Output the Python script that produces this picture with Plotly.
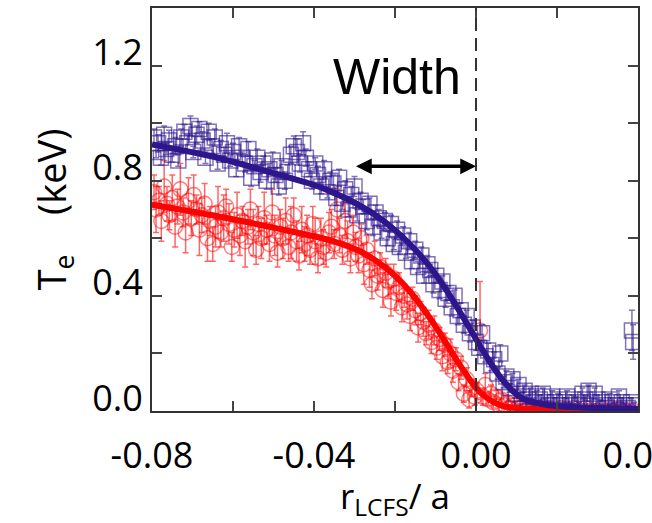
import plotly.graph_objects as go

# ---------------- data ----------------
blue_x = [
    -0.0795, -0.0790, -0.0785, -0.0778, -0.0770, -0.0765, -0.0758, -0.0750, -0.0742, -0.0735,
    -0.0728, -0.0720, -0.0713, -0.0705, -0.0698, -0.0690, -0.0683, -0.0675, -0.0668, -0.0660,
    -0.0652, -0.0645, -0.0638, -0.0630, -0.0622, -0.0615, -0.0607, -0.0600, -0.0592, -0.0585,
    -0.0577, -0.0570, -0.0562, -0.0555, -0.0547, -0.0540, -0.0532, -0.0525, -0.0517, -0.0510,
    -0.0502, -0.0495, -0.0487, -0.0480, -0.0472, -0.0465, -0.0457, -0.0450, -0.0442, -0.0435,
    -0.0427, -0.0420, -0.0412, -0.0405, -0.0397, -0.0390, -0.0382, -0.0375, -0.0367, -0.0360,
    -0.0352, -0.0345, -0.0338, -0.0330, -0.0323, -0.0315, -0.0308, -0.0300, -0.0293, -0.0285,
    -0.0278, -0.0270, -0.0263, -0.0255, -0.0248, -0.0240, -0.0233, -0.0225, -0.0218, -0.0210,
    -0.0203, -0.0195, -0.0188, -0.0180, -0.0173, -0.0165, -0.0158, -0.0150, -0.0143, -0.0135,
    -0.0128, -0.0120, -0.0113, -0.0105, -0.0098, -0.0090, -0.0083, -0.0075, -0.0068, -0.0060,
    -0.0053, -0.0045, -0.0038, -0.0030, -0.0023, -0.0015, -0.0008, 0.0000,
    0.0008, 0.0015, 0.0023, 0.0030, 0.0038, 0.0045, 0.0053, 0.0060, 0.0068, 0.0075,
    0.0083, 0.0090, 0.0098, 0.0105, 0.0113, 0.0120, 0.0128, 0.0135, 0.0143, 0.0150,
    0.0158, 0.0165, 0.0173, 0.0180, 0.0188, 0.0195, 0.0203, 0.0210, 0.0218, 0.0225,
    0.0233, 0.0240, 0.0248, 0.0255, 0.0263, 0.0270, 0.0278, 0.0285, 0.0293, 0.0300,
    0.0308, 0.0315, 0.0323, 0.0330, 0.0338, 0.0345, 0.0353, 0.0360, 0.0368, 0.0375,
    0.0383, 0.0390, 0.0385, 0.0388,
]
blue_y = [
    0.95, 0.90, 0.93, 0.88, 0.96, 0.91, 0.94, 0.89, 0.92, 0.87,
    0.95, 0.97, 0.93, 0.99, 0.90, 0.96, 0.98, 0.94, 0.88, 0.97,
    0.92, 0.95, 0.86, 0.91, 0.89, 0.93, 0.87, 0.90, 0.84, 0.92,
    0.88, 0.86, 0.91, 0.81, 0.85, 0.88, 0.83, 0.86, 0.80, 0.84,
    0.87, 0.82, 0.78, 0.85, 0.80, 0.83, 0.89, 0.92, 0.90, 0.86,
    0.93, 0.88, 0.84, 0.80, 0.86, 0.82, 0.78, 0.84, 0.76, 0.80,
    0.79, 0.74, 0.81, 0.72, 0.77, 0.70, 0.75, 0.78, 0.68, 0.73,
    0.71, 0.66, 0.72, 0.64, 0.69, 0.67, 0.62, 0.66, 0.60, 0.65,
    0.58, 0.63, 0.57, 0.61, 0.55, 0.59, 0.52, 0.56, 0.50, 0.54,
    0.47, 0.51, 0.49, 0.44, 0.47, 0.42, 0.45, 0.39, 0.41, 0.36,
    0.40, 0.33, 0.35, 0.30, 0.33, 0.27, 0.29, 0.24,
    0.22, 0.27, 0.19, 0.21, 0.16, 0.18, 0.13, 0.20, 0.10, 0.12,
    0.08, 0.11, 0.06, 0.09, 0.05, 0.07, 0.04, 0.06, 0.03, 0.05,
    0.04, 0.06, 0.03, 0.02, 0.05, 0.03, 0.04, 0.02, 0.03, 0.05,
    0.02, 0.04, 0.03, 0.02, 0.06, 0.04, 0.07, 0.03, 0.06, 0.04,
    0.03, 0.02, 0.01, 0.04, 0.03, 0.02, 0.05, 0.03, 0.02, 0.01,
    0.03, 0.02, 0.28, 0.24,
]
blue_err = [
    0.03, 0.02, 0.03, 0.025, 0.03, 0.02, 0.035, 0.025, 0.03, 0.02,
    0.03, 0.025, 0.03, 0.035, 0.02, 0.03, 0.025, 0.03, 0.02, 0.03,
    0.025, 0.03, 0.02, 0.03, 0.025, 0.035, 0.02, 0.03, 0.025, 0.03,
    0.02, 0.03, 0.025, 0.03, 0.02, 0.03, 0.035, 0.025, 0.03, 0.02,
    0.03, 0.025, 0.03, 0.02, 0.03, 0.025, 0.03, 0.035, 0.045, 0.03,
    0.04, 0.03, 0.025, 0.03, 0.02, 0.03, 0.025, 0.03, 0.02, 0.03,
    0.03, 0.025, 0.03, 0.02, 0.03, 0.025, 0.03, 0.035, 0.02, 0.03,
    0.025, 0.03, 0.02, 0.03, 0.025, 0.03, 0.02, 0.03, 0.025, 0.03,
    0.02, 0.03, 0.025, 0.03, 0.02, 0.03, 0.025, 0.03, 0.02, 0.03,
    0.025, 0.03, 0.02, 0.03, 0.025, 0.03, 0.02, 0.03, 0.025, 0.03,
    0.02, 0.03, 0.025, 0.03, 0.02, 0.03, 0.025, 0.03,
    0.025, 0.03, 0.02, 0.025, 0.02, 0.025, 0.02, 0.03, 0.02, 0.02,
    0.015, 0.02, 0.015, 0.02, 0.015, 0.02, 0.015, 0.02, 0.015, 0.02,
    0.015, 0.02, 0.015, 0.01, 0.02, 0.015, 0.02, 0.01, 0.015, 0.02,
    0.01, 0.015, 0.02, 0.01, 0.02, 0.015, 0.02, 0.015, 0.02, 0.015,
    0.01, 0.015, 0.01, 0.02, 0.015, 0.01, 0.02, 0.015, 0.01, 0.01,
    0.015, 0.01, 0.07, 0.06,
]

red_x = [
    -0.0795, -0.0790, -0.0783, -0.0777, -0.0770, -0.0763, -0.0757, -0.0750, -0.0743, -0.0737,
    -0.0730, -0.0723, -0.0717, -0.0710, -0.0703, -0.0697, -0.0690, -0.0683, -0.0677, -0.0670,
    -0.0663, -0.0657, -0.0650, -0.0643, -0.0637, -0.0630, -0.0623, -0.0617, -0.0610, -0.0603,
    -0.0597, -0.0590, -0.0583, -0.0577, -0.0570, -0.0563, -0.0557, -0.0550, -0.0543, -0.0537,
    -0.0530, -0.0523, -0.0517, -0.0510, -0.0503, -0.0497, -0.0490, -0.0483, -0.0477, -0.0470,
    -0.0463, -0.0457, -0.0450, -0.0443, -0.0437, -0.0430, -0.0423, -0.0417, -0.0410, -0.0403,
    -0.0397, -0.0390, -0.0383, -0.0377, -0.0370, -0.0363,
    -0.0357, -0.0350, -0.0343, -0.0337, -0.0330, -0.0323, -0.0317, -0.0310, -0.0303, -0.0297,
    -0.0290, -0.0283, -0.0277, -0.0270, -0.0263, -0.0257, -0.0250, -0.0243, -0.0237, -0.0230,
    -0.0223, -0.0217, -0.0210, -0.0203, -0.0197, -0.0190, -0.0183, -0.0177, -0.0170, -0.0163,
    -0.0157, -0.0150, -0.0143, -0.0137, -0.0130, -0.0123, -0.0117, -0.0110, -0.0103, -0.0097,
    -0.0090, -0.0083, -0.0077, -0.0070, -0.0063, -0.0057, -0.0050, -0.0043, -0.0037, -0.0030,
    -0.0023, -0.0017, -0.0010, -0.0003,
    0.0003, 0.0010, 0.0017, 0.0023, 0.0030, 0.0037, 0.0043, 0.0050, 0.0057, 0.0063,
    0.0070, 0.0077, 0.0083, 0.0090, 0.0097, 0.0103, 0.0110, 0.0120, 0.0130, 0.0140,
    0.0150, 0.0160, 0.0170, 0.0180, 0.0190, 0.0200, 0.0210, 0.0220, 0.0230, 0.0240,
    0.0250, 0.0260, 0.0270, 0.0280, 0.0290, 0.0300, 0.0310, 0.0320, 0.0330, 0.0340,
    0.0350, 0.0360, 0.0370, 0.0380, 0.0390,
]
red_y = [
    0.76, 0.70, 0.73, 0.66, 0.78, 0.72, 0.68, 0.74, 0.64, 0.71,
    0.77, 0.69, 0.62, 0.73, 0.67, 0.75, 0.70, 0.63, 0.68, 0.72,
    0.60, 0.66, 0.58, 0.64, 0.69, 0.62, 0.67, 0.71, 0.65, 0.57,
    0.63, 0.68, 0.61, 0.66, 0.59, 0.64, 0.70, 0.62, 0.56, 0.65,
    0.60, 0.67, 0.63, 0.58, 0.69, 0.61, 0.55, 0.64, 0.60, 0.66,
    0.57, 0.62, 0.68, 0.59, 0.54, 0.63, 0.58, 0.61, 0.56, 0.65,
    0.59, 0.53, 0.60, 0.57, 0.55, 0.62,
    0.64, 0.58, 0.70, 0.61, 0.56, 0.66, 0.59, 0.53, 0.62, 0.57,
    0.54, 0.60, 0.51, 0.56, 0.49, 0.44, 0.53, 0.47, 0.50, 0.42,
    0.48, 0.45, 0.38, 0.46, 0.41, 0.43, 0.36, 0.40, 0.37, 0.33,
    0.39, 0.35, 0.29, 0.34, 0.31, 0.27, 0.30, 0.24, 0.28, 0.22,
    0.25, 0.19, 0.23, 0.17, 0.20, 0.14, 0.18, 0.10, 0.15, 0.06,
    0.11, 0.04, 0.08, 0.05,
    0.07, 0.28, 0.05, 0.09, 0.04, 0.06, 0.03, 0.05, 0.02, 0.04,
    0.02, 0.03, 0.01, 0.02, 0.02, 0.01, 0.01, 0.00, 0.01, 0.01,
    0.00, 0.01, 0.00, 0.01, 0.00, 0.00, 0.01, 0.00, 0.00, 0.01,
    0.00, 0.00, 0.01, 0.00, 0.00, 0.00, 0.01, 0.00, 0.00, 0.00,
    0.01, 0.00, 0.00, 0.00, 0.00,
]
red_err_core = [
    0.06, 0.08, 0.05, 0.07, 0.09, 0.06, 0.05, 0.08, 0.07, 0.06,
    0.09, 0.05, 0.07, 0.08, 0.06, 0.07, 0.05, 0.09, 0.06, 0.07,
    0.08, 0.05, 0.06, 0.07, 0.09, 0.05, 0.08, 0.06, 0.07, 0.05,
    0.06, 0.08, 0.07, 0.05, 0.09, 0.06, 0.07, 0.08, 0.05, 0.06,
    0.07, 0.09, 0.05, 0.06, 0.08, 0.07, 0.05, 0.06, 0.07, 0.08,
    0.05, 0.09, 0.06, 0.07, 0.05, 0.08, 0.06, 0.07, 0.05, 0.06,
    0.08, 0.05, 0.07, 0.06, 0.05, 0.07,
    0.06, 0.05, 0.07, 0.06, 0.05, 0.06, 0.07, 0.05, 0.06, 0.05,
    0.06, 0.05, 0.07, 0.05, 0.06, 0.05, 0.06, 0.05, 0.05, 0.06,
    0.05, 0.06, 0.05, 0.05, 0.06, 0.05, 0.05, 0.04, 0.05, 0.05,
    0.04, 0.05, 0.05, 0.04, 0.05, 0.04, 0.05, 0.04, 0.05, 0.04,
    0.04, 0.05, 0.04, 0.04, 0.05, 0.04, 0.04, 0.03, 0.04, 0.03,
    0.04, 0.03, 0.03, 0.03,
]
red_err_edge_plus = [
    0.03, 0.17, 0.03, 0.04, 0.02, 0.03, 0.02, 0.02, 0.02, 0.02,
    0.01, 0.02, 0.01, 0.01, 0.01, 0.01, 0.01, 0.01, 0.01, 0.01,
    0.01, 0.01, 0.01, 0.01, 0.01, 0.01, 0.01, 0.01, 0.01, 0.01,
    0.01, 0.01, 0.01, 0.01, 0.01, 0.01, 0.01, 0.01, 0.01, 0.01,
    0.01, 0.01, 0.01, 0.01, 0.01,
]
red_err_edge_minus = [
    0.03, 0.06, 0.03, 0.04, 0.02, 0.03, 0.02, 0.02, 0.02, 0.02,
    0.01, 0.02, 0.01, 0.01, 0.01, 0.01, 0.01, 0.01, 0.01, 0.01,
    0.01, 0.01, 0.01, 0.01, 0.01, 0.01, 0.01, 0.01, 0.01, 0.01,
    0.01, 0.01, 0.01, 0.01, 0.01, 0.01, 0.01, 0.01, 0.01, 0.01,
    0.01, 0.01, 0.01, 0.01, 0.01,
]

blue_fit_x = [-0.080, -0.065, -0.050, -0.040, -0.036, -0.032, -0.028, -0.024, -0.020,
              -0.016, -0.012, -0.008, -0.004, 0.000, 0.003, 0.006, 0.009, 0.012,
              0.018, 0.030, 0.040]
blue_fit_y = [0.926, 0.884, 0.826, 0.785, 0.763, 0.738, 0.708, 0.672, 0.628,
              0.575, 0.512, 0.435, 0.345, 0.250, 0.180, 0.118, 0.070, 0.040,
              0.020, 0.010, 0.008]
red_fit_x = [-0.080, -0.065, -0.050, -0.040, -0.036, -0.032, -0.028, -0.024, -0.020,
             -0.016, -0.012, -0.008, -0.004, 0.000, 0.003, 0.006, 0.010, 0.020, 0.040]
red_fit_y = [0.717, 0.680, 0.637, 0.607, 0.593, 0.575, 0.550, 0.515, 0.470,
             0.410, 0.335, 0.250, 0.160, 0.080, 0.042, 0.020, 0.010, 0.004, 0.002]

x_tickvals = [-0.08, -0.06, -0.04, -0.02, 0.00, 0.02, 0.04]
x_ticktext = ["-0.08", "", "-0.04", "", "0.00", "", "0.04"]
y_tickvals = [0.0, 0.2, 0.4, 0.6, 0.8, 1.0, 1.2]
y_ticktext = ["0.0", "", "0.4", "", "0.8", "", "1.2"]

width_arrow_x = [-0.030, 0.0]
width_arrow_y = 0.85
lcfs_x = 0.0

# ---------------- styling ----------------
BLUE = "rgb(45,22,140)"
BLUE_PT = "rgba(45,22,140,0.6)"
RED = "rgb(255,0,0)"
RED_PT = "rgba(255,0,0,0.5)"
FONT = "Open Sans"

fig = go.Figure()

fig.add_trace(go.Scatter(
    x=red_x, y=red_y, mode="markers",
    marker=dict(symbol="circle-open", size=15, color=RED_PT, line=dict(width=1.5)),
    error_y=dict(type="data", array=red_err_core + red_err_edge_plus,
                 arrayminus=red_err_core + red_err_edge_minus,
                 color="rgba(255,0,0,0.6)", thickness=1.5, width=3),
    showlegend=False,
))
fig.add_trace(go.Scatter(
    x=blue_x, y=blue_y, mode="markers",
    marker=dict(symbol="square-open", size=15, color=BLUE_PT, line=dict(width=1.5)),
    error_y=dict(type="data", array=blue_err, color="rgba(45,22,140,0.6)",
                 thickness=1.5, width=3),
    showlegend=False,
))
fig.add_trace(go.Scatter(
    x=red_fit_x, y=red_fit_y, mode="lines",
    line=dict(color=RED, width=6, shape="spline", smoothing=0.6),
    showlegend=False,
))
fig.add_trace(go.Scatter(
    x=blue_fit_x, y=blue_fit_y, mode="lines",
    line=dict(color=BLUE, width=6, shape="spline", smoothing=0.6),
    showlegend=False,
))

# dashed LCFS line
fig.add_shape(type="line", xref="x", yref="y", x0=lcfs_x, x1=lcfs_x, y0=0, y1=1.4,
              line=dict(color="#333333", width=2, dash="13px,7px"), layer="above")

# width arrow
fig.add_annotation(x=width_arrow_x[1], y=width_arrow_y, ax=width_arrow_x[0], ay=width_arrow_y,
                   xref="x", yref="y", axref="x", ayref="y", text="", showarrow=True,
                   arrowside="end+start", arrowhead=2, arrowsize=0.9, arrowwidth=3.5,
                   arrowcolor="black", standoff=0, startstandoff=0)
fig.add_annotation(x=-0.0194, y=1.16, xref="x", yref="y", text="Width", showarrow=False,
                   font=dict(family="Liberation Sans", size=50, color="black"))

axis_common = dict(
    showline=True, linecolor="#333333", linewidth=2, mirror="ticks",
    ticks="inside", ticklen=10, tickwidth=2, tickcolor="#444444",
    showgrid=False, zeroline=False, automargin=False,
    tickfont=dict(family=FONT, size=36, color="black"),
)

fig.update_layout(
    width=652, height=523,
    margin=dict(l=152, r=14, t=8, b=112),
    paper_bgcolor="white", plot_bgcolor="white",
    xaxis=dict(range=[-0.08, 0.04], tickmode="array", tickvals=x_tickvals,
               ticktext=x_ticktext, ticklabelstandoff=12, ticklabeloverflow="allow",
               title=dict(text="r<sub>LCFS</sub>/ a", font=dict(family=FONT, size=35, color="black"),
                          standoff=8),
               **axis_common),
    yaxis=dict(range=[0, 1.4], tickmode="array", tickvals=y_tickvals,
               ticktext=y_ticktext, ticklabelshift=-13,
               title=dict(text="T<sub>e</sub>\u00a0\u00a0\u00a0\u00a0(keV)",
                          font=dict(family=FONT, size=38, color="black"), standoff=14),
               **axis_common),
)

fig.write_html("out.html")
